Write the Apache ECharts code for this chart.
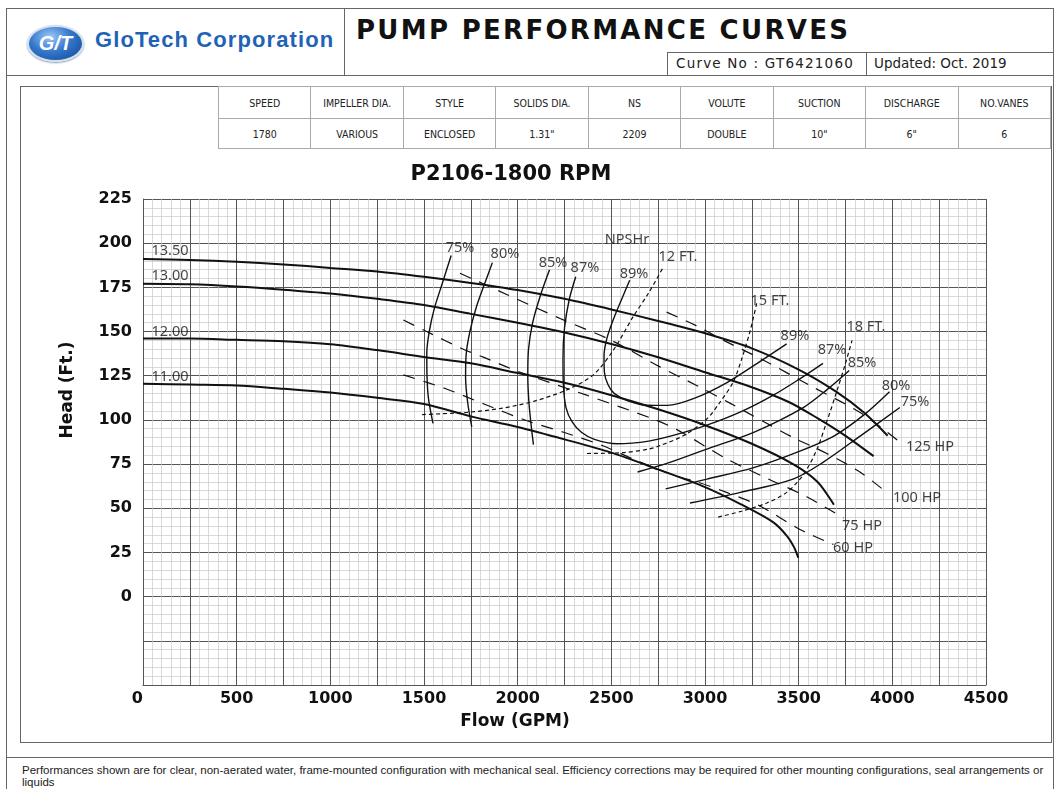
<!DOCTYPE html>
<html>
<head>
<meta charset="utf-8">
<title>P2106-1800 RPM</title>
<script src="https://cdn.jsdelivr.net/npm/echarts@6/dist/echarts.min.js"></script>
<style>
  body { margin: 0; background: #fff; }
  #page { position: relative; width: 1054px; height: 789px; overflow: hidden; background: #fff; font-family: "DejaVu Sans", sans-serif; color: #111; }
  .box { position: absolute; border: 1px solid #666; box-sizing: border-box; }
  .hline { position: absolute; height: 0; border-top: 1px solid #666; }
  .vline { position: absolute; width: 0; border-left: 1px solid #666; }
  #specs { position: absolute; left: 218px; top: 86px; width: 833px; border-collapse: collapse; table-layout: fixed; }
  #specs td { border: 1px solid #aaa; text-align: center; font-family: "DejaVu Sans Condensed", "DejaVu Sans", sans-serif; font-size: 10.5px; color: #222; padding: 0; }
  #specs tr.head td { height: 31px; }
  #specs tr.vals td { height: 29px; }
  #chart { position: absolute; left: 0; top: 0; width: 1054px; height: 789px; }
</style>
</head>
<body>
<div id="page">
  <!-- frames -->
  <div class="box" style="left:6px;top:8px;width:1048px;height:800px;"></div>
  <div class="vline" style="left:344px;top:8px;height:67px;"></div>
  <div class="hline" style="left:6px;top:75px;width:1048px;"></div>
  <div class="box" style="left:667px;top:52px;width:200px;height:24px;"></div>
  <div class="box" style="left:866px;top:52px;width:190px;height:24px;"></div>
  <div class="box" style="left:20px;top:86px;width:1032px;height:657px;"></div>
  <div class="hline" style="left:6px;top:757px;width:1048px;"></div>

  <!-- header -->
  <div style="position:absolute;left:27px;top:25px;width:57px;height:37px;border-radius:50%;border:2px solid #d3dff0;box-sizing:border-box;box-shadow:0 1px 2px #8899aa;background:radial-gradient(ellipse at 40% 30%, #9cc7f5 0%, #3478cc 45%, #0f448e 100%);color:#fff;font:italic bold 20px 'Liberation Sans',sans-serif;text-align:center;line-height:33px;">G/T</div>
  <div style="position:absolute;left:95px;top:27px;font:bold 22px 'Liberation Sans',sans-serif;letter-spacing:1.1px;color:#1f63b6;white-space:nowrap;">GloTech Corporation</div>
  <div style="position:absolute;left:356px;top:15px;font:bold 26px 'DejaVu Sans',sans-serif;letter-spacing:2.3px;color:#111;white-space:nowrap;">PUMP PERFORMANCE CURVES</div>
  <div style="position:absolute;left:676px;top:55px;font:13.5px 'DejaVu Sans',sans-serif;letter-spacing:1.2px;color:#222;white-space:nowrap;">Curve No : GT6421060</div>
  <div style="position:absolute;left:874px;top:55px;font:13.5px 'DejaVu Sans',sans-serif;color:#222;white-space:nowrap;">Updated: Oct. 2019</div>

  <table id="specs">
    <tr class="head"><td>SPEED</td><td>IMPELLER DIA.</td><td>STYLE</td><td>SOLIDS DIA.</td><td>NS</td><td>VOLUTE</td><td>SUCTION</td><td>DISCHARGE</td><td>NO.VANES</td></tr>
    <tr class="vals"><td>1780</td><td>VARIOUS</td><td>ENCLOSED</td><td>1.31"</td><td>2209</td><td>DOUBLE</td><td>10"</td><td>6"</td><td>6</td></tr>
  </table>

  <div style="position:absolute;left:22px;top:764px;font:11.5px 'Liberation Sans',sans-serif;line-height:12px;color:#222;white-space:nowrap;">Performances shown are for clear, non-aerated water, frame-mounted configuration with mechanical seal. Efficiency corrections may be required for other mounting configurations, seal arrangements or<br>liquids</div>

  <div id="chart"></div>
</div>
<script>
// axis labels
const flowLabels = [0, 500, 1000, 1500, 2000, 2500, 3000, 3500, 4000, 4500]
const headLabels = [0, 25, 50, 75, 100, 125, 150, 175, 200, 225]

// impeller head curves [GPM, ft]
const imp1350 = [[0, 191], [250, 190.5], [500, 189.5], [750, 188], [1000, 186], [1250, 184], [1500, 181], [1750, 177.5], [2000, 173.5], [2250, 168.5], [2500, 162.5], [2750, 156], [3000, 149], [3250, 140.5], [3500, 128.5], [3700, 116], [3850, 104], [3975, 91]]
const imp1300 = [[0, 177], [250, 176.7], [500, 175.5], [750, 173.7], [1000, 171.5], [1250, 168.5], [1500, 165], [1750, 160], [2000, 155], [2250, 149.5], [2500, 143], [2750, 135.5], [3000, 127], [3250, 118.5], [3450, 110], [3600, 101], [3750, 91], [3900, 79.5]]
const imp1200 = [[0, 146], [250, 146], [500, 145.3], [750, 144.5], [1000, 142.8], [1250, 139.5], [1500, 135.6], [1750, 132], [2000, 126.5], [2250, 121], [2500, 114], [2750, 106], [3000, 97], [3250, 86.5], [3470, 75], [3600, 65], [3688, 52]]
const imp1100 = [[0, 120.5], [250, 120], [500, 119.5], [750, 117.6], [1000, 115.5], [1250, 112.5], [1500, 109], [1750, 102], [2000, 96], [2250, 89], [2500, 81.5], [2750, 72], [3000, 62], [3187, 52.5], [3365, 42], [3440, 34], [3475, 28], [3498, 22]]

// efficiency curves
const eff75a = [[1645, 193], [1600, 178], [1555, 163], [1528, 150], [1515, 138], [1516, 125], [1524, 112], [1548, 98]]
const eff80a = [[1865, 189], [1820, 176], [1780, 164], [1745, 150], [1725, 137], [1722, 124], [1733, 110], [1755, 96]]
const eff85a = [[2170, 185], [2120, 170], [2080, 155], [2058, 140], [2054, 125], [2060, 110], [2072, 97], [2084, 86]]
const eff87 = [[2310, 181], [2275, 168], [2250, 152], [2242, 135], [2244, 120], [2258, 107], [2290, 99], [2340, 93], [2410, 89], [2530, 86.5], [2700, 88], [2840, 91.5], [3010, 97], [3190, 104.5], [3365, 114], [3510, 123.5], [3630, 132]]
const eff89 = [[2598, 179], [2558, 169], [2515, 158], [2476, 146], [2461, 136], [2463, 127], [2482, 120], [2515, 115], [2585, 111], [2690, 108.3], [2800, 108.2], [2938, 112], [3115, 121], [3293, 133], [3436, 143]]
const eff85b = [[2640, 70.5], [2800, 75.5], [3010, 83.5], [3260, 93], [3525, 107], [3650, 117], [3770, 128]]
const eff80b = [[2790, 61], [3010, 66.5], [3260, 73], [3510, 82.5], [3690, 91], [3850, 103], [3985, 116]]
const eff75b = [[2920, 53], [3190, 59], [3470, 66.5], [3630, 76], [3830, 91], [4040, 107]]

// NPSHr curves
const npsh12 = [[1490, 103], [1730, 104.3], [1910, 106.5], [2085, 110.5], [2262, 117], [2404, 125.5], [2511, 139.5], [2617, 158.5], [2700, 172], [2775, 186]]
const npsh15 = [[2370, 81], [2560, 81.5], [2700, 83.5], [2760, 85.5], [2884, 91], [3009, 100.5], [3080, 110], [3151, 121.5], [3196, 134.5], [3240, 150], [3276, 166]]
const npsh18 = [[3070, 45], [3200, 48.5], [3330, 53], [3436, 59], [3525, 69], [3596, 83], [3650, 99], [3703, 116], [3747, 131], [3785, 145]]

// power lines
const hp125 = [[2795, 161], [2950, 153.5], [3100, 145], [3300, 134.5], [3560, 119.5], [3830, 104], [4040, 87.5]]
const hp100 = [[1692, 183], [1941, 171], [2235, 157], [2500, 145], [2760, 130], [2955, 119.5], [3133, 109.5], [3314, 99], [3471, 90], [3650, 81], [3827, 70.5], [3969, 59]]
const hp75 = [[1390, 156.5], [1514, 150], [1710, 140], [1817, 135.5], [2000, 127.5], [2368, 114], [2724, 100.5], [2850, 94.5], [3115, 78], [3330, 67], [3543, 56.5], [3740, 44.5]]
const hp60 = [[1390, 125.5], [1620, 117.5], [1820, 109], [2050, 99.5], [2245, 93], [2440, 86], [2635, 77], [2840, 68.5], [2955, 65], [3115, 59], [3293, 51.3], [3507, 38], [3685, 29.5]]

// curve labels [text, GPM, ft]
const notes = [
  ['13.50', 144, 195.5], ['13.00', 144, 181.3], ['12.00', 144, 150], ['11.00', 144, 124.4],
  ['75%', 1692, 197.2], ['80%', 1932, 193.8], ['85%', 2189, 188.6], ['87%', 2359, 185.8], ['89%', 2621, 182.4],
  ['NPSHr', 2584, 201.7], ['12 FT.', 2856, 192], ['15 FT.', 3347, 167.6], ['18 FT.', 3859, 152.8],
  ['89%', 3480, 147.7], ['87%', 3678, 139.8], ['85%', 3838, 132.4], ['80%', 4020, 119.3], ['75%', 4121, 110.2],
  ['125 HP', 4201, 84.7], ['100 HP', 4132, 55.7], ['75 HP', 3838, 40.3], ['60 HP', 3790, 27.8]
]

function curve (data, width, dash) {
  return {
    type: 'line',
    data: data,
    smooth: 0.3,
    showSymbol: false,
    silent: true,
    lineStyle: { color: '#111', width: width, type: dash || 'solid' },
    z: 3
  }
}

let myChart = echarts.init(document.getElementById('chart'))
let option = {
  animation: false,
  grid: { left: 143, top: 199, width: 843, height: 486, show: false },
  graphic: [
    { type: 'text', x: 511, y: 175, style: { text: 'P2106-1800 RPM', font: 'bold 21px "DejaVu Sans"', fill: '#111', align: 'center', verticalAlign: 'middle' } },
    { type: 'text', x: 515, y: 722, style: { text: 'Flow (GPM)', font: 'bold 17px "DejaVu Sans"', fill: '#111', align: 'center', verticalAlign: 'middle' } },
    { type: 'text', x: 68, y: 390, rotation: Math.PI / 2, style: { text: 'Head (Ft.)', font: 'bold 17px "DejaVu Sans"', fill: '#111', align: 'center', verticalAlign: 'middle' } }
  ],
  xAxis: {
    type: 'value',
    min: 0,
    max: 4500,
    interval: 250,
    axisLine: { show: true, onZero: false, lineStyle: { color: '#555', width: 1 } },
    axisTick: { show: false },
    axisLabel: {
      margin: 6,
      color: '#111',
      fontFamily: 'DejaVu Sans',
      fontWeight: 'bold',
      fontSize: 16,
      alignMinLabel: 'right',
      formatter: v => flowLabels.includes(v) ? String(v) : ''
    },
    splitLine: { show: true, lineStyle: { color: '#555', width: 1 } },
    minorTick: { show: false, splitNumber: 5 },
    minorSplitLine: { show: true, lineStyle: { color: '#c8c8c8', width: 0.7 } }
  },
  yAxis: {
    type: 'value',
    min: -50,
    max: 225,
    interval: 25,
    axisLine: { show: true, onZero: false, lineStyle: { color: '#555', width: 1 } },
    axisTick: { show: false },
    axisLabel: {
      margin: 11,
      color: '#111',
      fontFamily: 'DejaVu Sans',
      fontWeight: 'bold',
      fontSize: 16,
      formatter: v => headLabels.includes(v) ? String(v) : ''
    },
    splitLine: { show: true, lineStyle: { color: '#555', width: 1 } },
    minorTick: { show: false, splitNumber: 5 },
    minorSplitLine: { show: true, lineStyle: { color: '#c8c8c8', width: 0.7 } }
  },
  series: [
    curve(imp1350, 2), curve(imp1300, 2), curve(imp1200, 2), curve(imp1100, 2),
    curve(eff75a, 1.4), curve(eff80a, 1.4), curve(eff85a, 1.4), curve(eff87, 1.4), curve(eff89, 1.4),
    curve(eff85b, 1.4), curve(eff80b, 1.4), curve(eff75b, 1.4),
    curve(npsh12, 1.2, [4, 3]), curve(npsh15, 1.2, [4, 3]), curve(npsh18, 1.2, [4, 3]),
    curve(hp125, 1.2, [12, 9]), curve(hp100, 1.2, [12, 9]), curve(hp75, 1.2, [12, 9]), curve(hp60, 1.2, [12, 9]),
    {
      type: 'scatter',
      silent: true,
      symbolSize: 1,
      itemStyle: { color: 'rgba(0,0,0,0)' },
      z: 5,
      label: {
        show: true,
        position: 'inside',
        formatter: '{b}',
        color: '#111',
        fontFamily: 'Noto Sans',
        fontSize: 14.5
      },
      data: notes.map(function (n) {
        return { name: n[0], value: [n[1], n[2]] }
      })
    }
  ]
}
myChart.setOption(option)
</script>
</body>
</html>
